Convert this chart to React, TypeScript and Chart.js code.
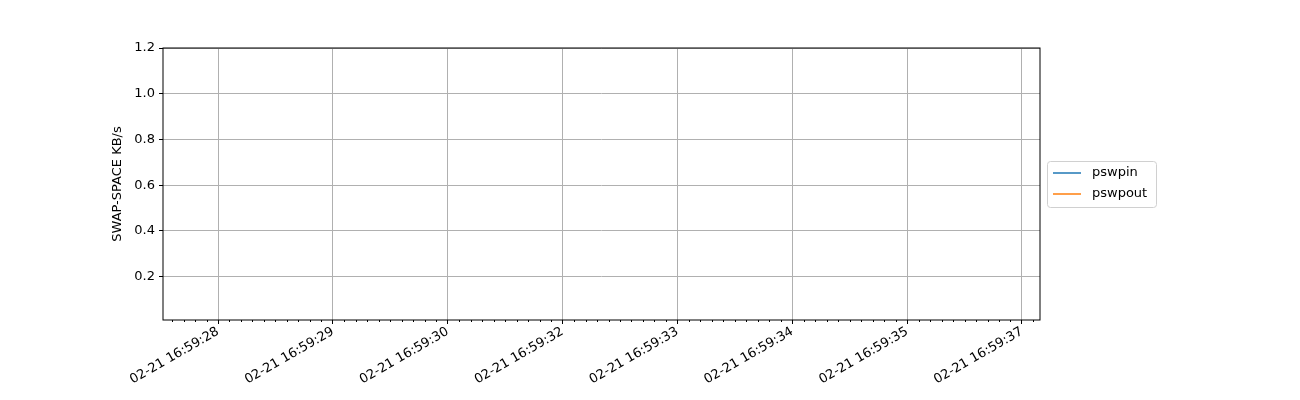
import React, { useEffect, useRef } from "react";
import { Chart, registerables } from "chart.js";
Chart.register(...registerables);

const timeLabels = ["02-21 16:59:28", "02-21 16:59:29", "02-21 16:59:30", "02-21 16:59:32", "02-21 16:59:33", "02-21 16:59:34", "02-21 16:59:35", "02-21 16:59:37"];
const pswpin = [0, 0, 0, 0, 0, 0, 0, 0];
const pswpout = [0, 0, 0, 0, 0, 0, 0, 0];
const yTicks = [0.2, 0.4, 0.6, 0.8, 1.0, 1.2];
const seriesNames = ["pswpin", "pswpout"];
const seriesColors = ["#1f77b4", "#ff7f0e"];
const yTitle = "SWAP-SPACE KB/s";
const FONT = "DejaVu Sans";

export default function App() {
  const ref = useRef<HTMLCanvasElement>(null);
  useEffect(() => {
    document.body.style.margin = "0";
    const frame = {
      id: "frame",
      afterDraw(c: any) {
        const { ctx, chartArea: a, scales } = c;
        ctx.save();
        ctx.strokeStyle = "#000";
        ctx.lineWidth = 1;
        ctx.strokeRect(a.left, a.top, a.right - a.left, a.bottom - a.top);
        const x = scales.x;
        ctx.beginPath();
        for (let v = Math.ceil(x.min * 10); v <= x.max * 10; v++) {
          if (v % 10 === 0) continue;
          const px = Math.round(x.getPixelForValue(v / 10)) + 0.5;
          ctx.moveTo(px, a.bottom);
          ctx.lineTo(px, a.bottom + 2);
        }
        ctx.stroke();
        // y title
        ctx.save();
        ctx.translate(118, (a.top + a.bottom) / 2);
        ctx.rotate(-Math.PI / 2);
        ctx.font = `13px '${FONT}'`;
        ctx.fillStyle = "#000";
        ctx.textAlign = "center";
        ctx.textBaseline = "middle";
        ctx.fillText(yTitle, 0, 0);
        ctx.restore();
        // legend
        const lx = 1047, ly = 161, lw = 109, lh = 46;
        ctx.fillStyle = "#fff";
        ctx.strokeStyle = "#d0d0d0";
        ctx.beginPath();
        (ctx as any).roundRect(lx + 0.5, ly + 0.5, lw, lh, 3);
        ctx.fill();
        ctx.stroke();
        ctx.font = `13px '${FONT}'`;
        ctx.textBaseline = "middle";
        seriesNames.forEach((n, i) => {
          const y = ly + 12 + i * 21;
          ctx.strokeStyle = seriesColors[i];
          ctx.lineWidth = 1.5;
          ctx.beginPath();
          ctx.moveTo(lx + 6, y);
          ctx.lineTo(lx + 34, y);
          ctx.stroke();
          ctx.fillStyle = "#000";
          ctx.fillText(n, lx + 45, y);
        });
        ctx.restore();
      },
    };
    const chart = new Chart(ref.current!, {
      type: "line",
      data: {
        datasets: [
          { label: seriesNames[0], data: pswpin.map((v, i) => ({ x: i, y: v })), borderColor: seriesColors[0], borderWidth: 1.5, pointRadius: 0 },
          { label: seriesNames[1], data: pswpout.map((v, i) => ({ x: i, y: v })), borderColor: seriesColors[1], borderWidth: 1.5, pointRadius: 0 },
        ],
      },
      options: {
        responsive: false,
        animation: false,
        layout: { padding: { left: 0, right: 260, top: 48, bottom: 0 } },
        plugins: { legend: { display: false }, tooltip: { enabled: false } },
        scales: {
          x: {
            type: "linear",
            min: -0.479,
            max: 7.157,
            afterBuildTicks: (s: any) => { s.ticks = timeLabels.map((_, i) => ({ value: i })); },
            afterFit: (s: any) => { s.height = 80; },
            ticks: {
              autoSkip: false,
              minRotation: 30,
              maxRotation: 30,
              color: "#000",
              font: { family: FONT, size: 13 },
              padding: 0,
              callback: (v: any) => timeLabels[v] ?? "",
            },
            grid: { color: "#b0b0b0", tickColor: "#000", tickLength: 4 },
            border: { display: false },
          },
          y: {
            min: 0.01,
            max: 1.2,
            afterBuildTicks: (s: any) => { s.ticks = yTicks.map((v) => ({ value: v })); },
            afterFit: (s: any) => { s.width = 163; },
            ticks: { color: "#000", font: { family: FONT, size: 13 }, padding: 4, callback: (v: any) => Number(v).toFixed(1) },
            grid: { color: "#b0b0b0", tickColor: "#000", tickLength: 4 },
            border: { display: false },
          },
        },
      },
      plugins: [frame],
    });
    return () => chart.destroy();
  }, []);
  return <canvas ref={ref} width={1300} height={400} style={{ display: "block" }} />;
}
